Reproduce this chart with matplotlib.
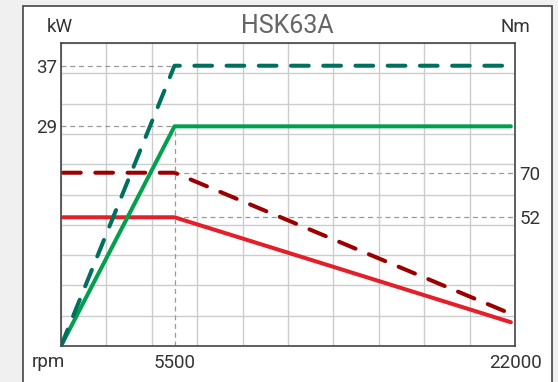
import numpy as np
import matplotlib
matplotlib.use('Agg')
import matplotlib.pyplot as plt
from matplotlib.patches import Rectangle

# spindle HSK63A: power (kW) and torque (Nm) vs speed (rpm)
rpm = [100, 5500, 21800]
power_s6 = [0, 37, 37]
power_s1 = [0, 29, 29]
torque_s6 = [70, 70, 13]
torque_s1 = [52, 52, 9.6]

corner_rpm = 5500
max_rpm = 22000
power_ticks = [29, 37]
torque_ticks = [52, 70]
power_max = 40
torque_max = 122.4

title = 'HSK63A'
plt.rcParams['font.family'] = ['Roboto', 'DejaVu Sans']

fig = plt.figure(figsize=(5.58, 3.82), dpi=100, facecolor='#f0f0f0')
fig.patches.append(Rectangle((23 / 558, -0.1), 529 / 558, 1.1 - 6 / 382,
                             transform=fig.transFigure, facecolor='white',
                             edgecolor='#444444', lw=1.2, zorder=-1))

pos = [61 / 558, 36 / 382, 454 / 558, 303 / 382]
# torque axis underneath (carries the grid), power axis on top
ax2 = fig.add_axes(pos, label='torque')
ax = fig.add_axes(pos, label='power')
ax.patch.set_visible(False)

ax.set_xlim(0, max_rpm)
ax2.set_xlim(0, max_rpm)
ax.set_ylim(0, power_max)
ax2.set_ylim(0, torque_max)

# grid 10 x 10
ax2.set_xticks(np.linspace(0, max_rpm, 11))
ax2.set_yticks(np.linspace(0, torque_max, 11), minor=True)
ax2.grid(which='both', color='#cccccc', lw=1)
ax2.yaxis.grid(False, which='major')
ax2.tick_params(axis='x', labelbottom=False)

# reference lines
ref = dict(color='#999999', lw=0.9, dashes=(4, 3))
for p in power_ticks:
    ax.plot([0, corner_rpm], [p, p], **ref, zorder=1)
ax.plot([corner_rpm, corner_rpm], [0, power_s1[1]], **ref, zorder=1)
for t in torque_ticks:
    ax2.plot([corner_rpm, max_rpm], [t, t], **ref, zorder=1)

lw = 2.9
ax2.plot(rpm, torque_s1, color='#e3202a', lw=lw, solid_capstyle='round', zorder=3)
ax2.plot(rpm, torque_s6, color='#9b0000', lw=lw, dashes=(4.4, 3.6),
         dash_capstyle='round', zorder=3)
ax.plot([0] + rpm[1:], power_s1, color='#00a04c', lw=lw, solid_capstyle='round', zorder=3)
ax.plot([0] + rpm[1:], power_s6, color='#00705e', lw=lw, dashes=(4.4, 3.6),
        dash_capstyle='round', zorder=3)

fs = 13.5
ax.set_xticks([corner_rpm, max_rpm])
ax.set_xticklabels([str(corner_rpm), str(max_rpm)])
ax.set_yticks(power_ticks)
ax.set_yticklabels([str(p) for p in power_ticks])
ax2.yaxis.tick_right()
ax2.set_yticks(torque_ticks)
ax2.set_yticklabels([str(t) for t in torque_ticks])
for a in (ax, ax2):
    a.tick_params(which='both', length=0, labelsize=fs, labelcolor='#333333')
ax.tick_params(axis='x', pad=6)
ax.tick_params(axis='y', pad=3)
ax2.tick_params(axis='y', pad=3)

for s in ax.spines.values():
    s.set_color('#444444')
    s.set_linewidth(1.2)
for s in ax2.spines.values():
    s.set_visible(False)

fig.text(48 / 558, 1 - 362 / 382, 'rpm', ha='center', va='center', fontsize=fs, color='#333333')
fig.text(60 / 558, 1 - 27 / 382, 'kW', ha='center', va='center', fontsize=fs, color='#333333')
fig.text(515 / 558, 1 - 27 / 382, 'Nm', ha='center', va='center', fontsize=fs, color='#333333')
fig.text(287 / 558, 1 - 26 / 382, title, ha='center', va='center', fontsize=18,
         color='#666666')

fig.savefig('out.png', dpi=100, facecolor=fig.get_facecolor())
